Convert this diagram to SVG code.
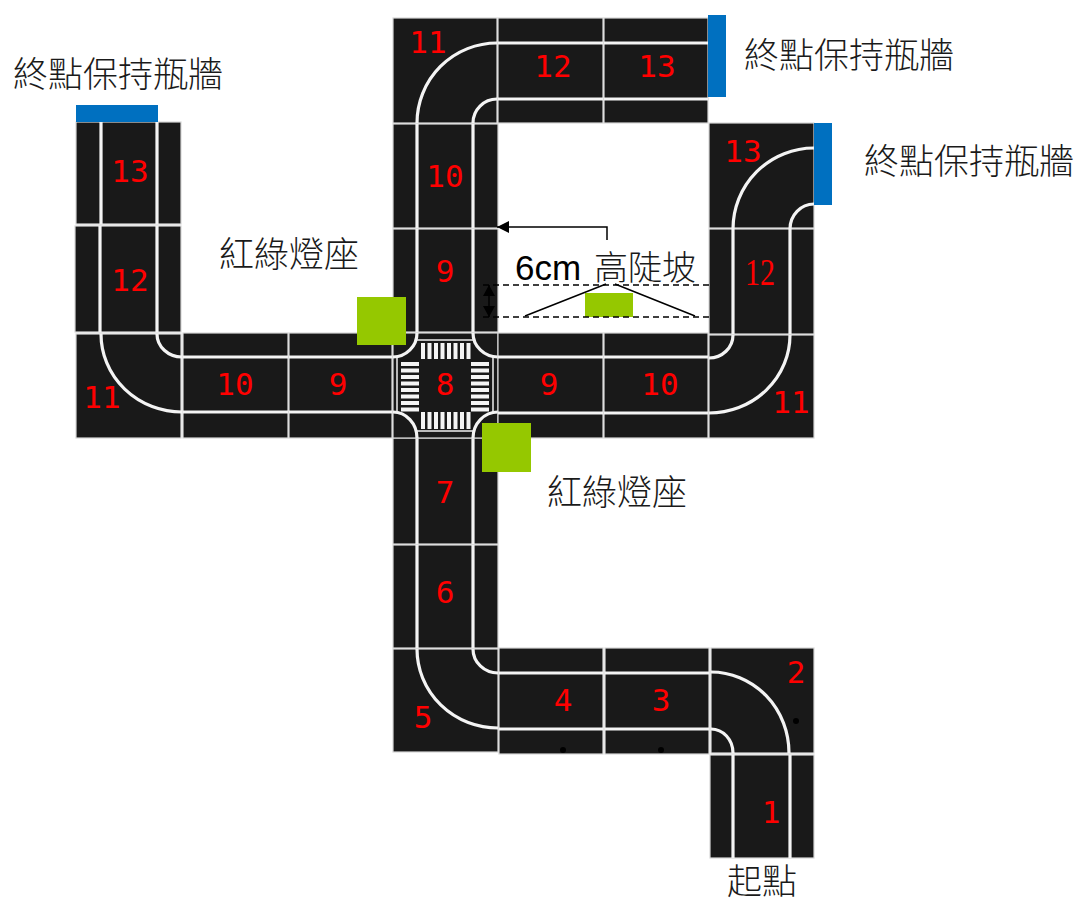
<svg xmlns="http://www.w3.org/2000/svg" width="1077" height="905" viewBox="0 0 1077 905">
<style>
.t{fill:#191919;stroke:#d8d8d8;stroke-width:1.2}
.r{fill:none;stroke:#f4f4f4;stroke-width:3.2}
.g{stroke:#f0f0f0;stroke-width:1.5;fill:none}
.n{font-family:"DejaVu Sans Mono","Liberation Mono",monospace;font-size:31px;fill:#ff0000;text-anchor:middle}
.l{font-family:"Noto Sans CJK TC","Noto Sans CJK SC",sans-serif;font-size:35px;fill:#1a1a1a;font-weight:300}
.b{fill:#0070c0}
.y{fill:#95c800}
.s{fill:#f4f4f4}
.c{fill:none;stroke:#000;stroke-width:1.5}
.d{fill:none;stroke:#000;stroke-width:1.5;stroke-dasharray:6 4}
</style>
<defs>
<marker id="a" markerWidth="13" markerHeight="13" refX="12" refY="6" orient="auto" markerUnits="userSpaceOnUse"><path d="M0 0L12 6L0 12Z" fill="#000"/></marker>
</defs>
<g id="tile-1"><rect class="t" x="710" y="755" width="104" height="103"/><path class="r" d="M733 755V858M790 755V858"/><text class="n" x="771" y="823">1</text></g>
<g id="tile-2"><rect class="t" x="711" y="648" width="103" height="105"/><path class="r" d="M711 672A78 81 0 0 1 789 753M711 729A22 24 0 0 1 733 753"/><circle cx="796" cy="721" r="3" fill="#000"/><text class="n" x="796" y="683">2</text></g>
<g id="tile-3"><rect class="t" x="605" y="648" width="104" height="106"/><path class="r" d="M605 673H709M605 729H709"/><circle cx="661" cy="750" r="3" fill="#000"/><text class="n" x="661" y="711">3</text></g>
<g id="tile-4"><rect class="t" x="499" y="648" width="104" height="106"/><path class="r" d="M499 673H603M499 729H603"/><circle cx="563" cy="750" r="3" fill="#000"/><text class="n" x="563" y="711">4</text></g>
<g id="tile-5"><rect class="t" x="393" y="649" width="105" height="103"/><path class="r" d="M417 649A81 79 0 0 0 498 728M473 649A25 24 0 0 0 498 673"/><text class="n" x="423" y="728">5</text></g>
<g id="tile-6"><rect class="t" x="393" y="545" width="105" height="103"/><path class="r" d="M417 545V648M473 545V648"/><text class="n" x="445" y="603">6</text></g>
<g id="tile-7"><rect class="t" x="393" y="438" width="105" height="106"/><path class="r" d="M417 438V544M473 438V544"/><text class="n" x="445" y="503">7</text></g>
<g id="tile-8"><rect class="t" x="393" y="333" width="105" height="105"/>
<path class="r" d="M393 357A24 24 0 0 0 417 333M498 357A25 24 0 0 1 473 333M393 412A24 26 0 0 1 417 438M498 412A25 26 0 0 0 473 438"/>
<path class="g" d="M417 340H473M417 431H473M397 357V412M493 357V412"/>
<g class="s">
<rect x="421" y="343" width="4" height="16"/><rect x="427.500" y="343" width="4" height="16"/><rect x="434" y="343" width="4" height="16"/><rect x="440.500" y="343" width="4" height="16"/><rect x="447" y="343" width="4" height="16"/><rect x="453.500" y="343" width="4" height="16"/><rect x="460" y="343" width="4" height="16"/><rect x="466.500" y="343" width="4" height="16"/>
<rect x="421" y="412" width="4" height="17"/><rect x="427.500" y="412" width="4" height="17"/><rect x="434" y="412" width="4" height="17"/><rect x="440.500" y="412" width="4" height="17"/><rect x="447" y="412" width="4" height="17"/><rect x="453.500" y="412" width="4" height="17"/><rect x="460" y="412" width="4" height="17"/><rect x="466.500" y="412" width="4" height="17"/>
<rect x="401" y="362" width="18" height="4"/><rect x="401" y="368.500" width="18" height="4"/><rect x="401" y="375" width="18" height="4"/><rect x="401" y="381.500" width="18" height="4"/><rect x="401" y="388" width="18" height="4"/><rect x="401" y="394.500" width="18" height="4"/><rect x="401" y="401" width="18" height="4"/><rect x="401" y="407.500" width="18" height="4"/>
<rect x="471" y="362" width="18" height="4"/><rect x="471" y="368.500" width="18" height="4"/><rect x="471" y="375" width="18" height="4"/><rect x="471" y="381.500" width="18" height="4"/><rect x="471" y="388" width="18" height="4"/><rect x="471" y="394.500" width="18" height="4"/><rect x="471" y="401" width="18" height="4"/><rect x="471" y="407.500" width="18" height="4"/>
</g>
<text class="n" x="445" y="395">8</text></g>
<g id="tile-9-up"><rect class="t" x="393" y="229" width="105" height="103"/><path class="r" d="M417 229V332M473 229V332"/><text class="n" x="445" y="282">9</text></g>
<g id="tile-10-up"><rect class="t" x="393" y="124" width="105" height="104"/><path class="r" d="M417 124V228M473 124V228"/><text class="n" x="445" y="187">10</text></g>
<g id="tile-11-up"><rect class="t" x="393" y="18" width="104" height="105"/><path class="r" d="M417 123A80 80 0 0 1 497 43M473 123A24 24 0 0 1 497 99"/><text class="n" x="428" y="53">11</text></g>
<g id="tile-12-up"><rect class="t" x="498" y="18" width="105" height="105"/><path class="r" d="M498 43H603M498 99H603"/><text class="n" x="553" y="77">12</text></g>
<g id="tile-13-up"><rect class="t" x="604" y="18" width="104" height="105"/><path class="r" d="M604 43H708M604 99H708"/><text class="n" x="657" y="77">13</text></g>
<g id="wall-up"><rect class="b" x="708" y="15" width="18" height="82"/></g>
<g id="tile-9-left"><rect class="t" x="289" y="333" width="103" height="105"/><path class="r" d="M289 357H392M289 412H392"/><text class="n" x="338" y="395">9</text></g>
<g id="tile-10-left"><rect class="t" x="183" y="333" width="105" height="105"/><path class="r" d="M183 357H288M183 412H288"/><text class="n" x="235" y="395">10</text></g>
<g id="tile-11-left"><rect class="t" x="76" y="334" width="105" height="104"/><path class="r" d="M101 334A81 78 0 0 0 182 412M157 334A25 23 0 0 0 182 357"/><text class="n" x="102" y="408">11</text></g>
<g id="tile-12-left"><rect class="t" x="75" y="226" width="106" height="106"/><path class="r" d="M100 226V332M157 226V332"/><text class="n" x="130" y="291">12</text></g>
<g id="tile-13-left"><rect class="t" x="76" y="122" width="105" height="102"/><path class="r" d="M101 122V224M157 122V224"/><text class="n" x="130" y="182">13</text></g>
<g id="wall-left"><rect class="b" x="76" y="105" width="82" height="17"/></g>
<g id="tile-9-right"><rect class="t" x="498" y="333" width="105" height="105"/><path class="r" d="M498 357H603M498 413H603"/><text class="n" x="549" y="395">9</text></g>
<g id="tile-10-right"><rect class="t" x="604" y="333" width="104" height="105"/><path class="r" d="M604 357H708M604 413H708"/><text class="n" x="660" y="395">10</text></g>
<g id="tile-11-right"><rect class="t" x="709" y="335" width="105" height="103"/><path class="r" d="M709 413A81 78 0 0 0 790 335M709 358A24 23 0 0 0 733 335"/><text class="n" x="791" y="413">11</text></g>
<g id="tile-12-right"><rect class="t" x="709" y="229" width="105" height="105"/><path class="r" d="M733 229V334M790 229V334"/><text x="760" y="285" font-family="Liberation Serif,serif" font-size="38" fill="#ff0000" text-anchor="middle" textLength="30" lengthAdjust="spacingAndGlyphs">12</text></g>
<g id="tile-13-right"><rect class="t" x="709" y="123" width="105" height="105"/><path class="r" d="M733 229A81 81 0 0 1 814 148M790 229A24 25 0 0 1 814 204"/><text class="n" x="743" y="162">13</text></g>
<g id="wall-right"><rect class="b" x="814" y="123" width="18" height="82"/></g>
<g id="light-left"><rect class="y" x="357" y="297" width="49" height="48"/></g>
<g id="light-right"><rect class="y" x="482" y="423" width="49" height="49"/></g>
<g id="ramp-block"><rect class="y" x="585" y="293" width="48" height="24"/></g>
<g id="connectors">
<path class="c" marker-end="url(#a)" d="M607 240V227H497"/>
<path class="d" d="M483 285H709M483 317H709"/>
<path class="c" d="M525 316L606 284M615 284L695 316"/>
<path class="c" d="M489 285V317"/>
<path d="M489 285L483 296H495ZM489 317L483 306H495Z" fill="#000"/>
</g>
<g id="labels">
<text class="l" x="13" y="87">終點保持瓶牆</text>
<text class="l" x="744" y="68">終點保持瓶牆</text>
<text class="l" x="864" y="174">終點保持瓶牆</text>
<text class="l" x="219" y="267">紅綠燈座</text>
<text class="l" x="547" y="505">紅綠燈座</text>
<text class="l" x="727" y="894">起點</text>
<text x="515" y="280" font-family="Liberation Sans,Noto Sans CJK TC,sans-serif" font-size="35" fill="#000">6cm</text>
<text class="l" x="594" y="280" style="font-size:34px">高陡坡</text>
</g>
</svg>
